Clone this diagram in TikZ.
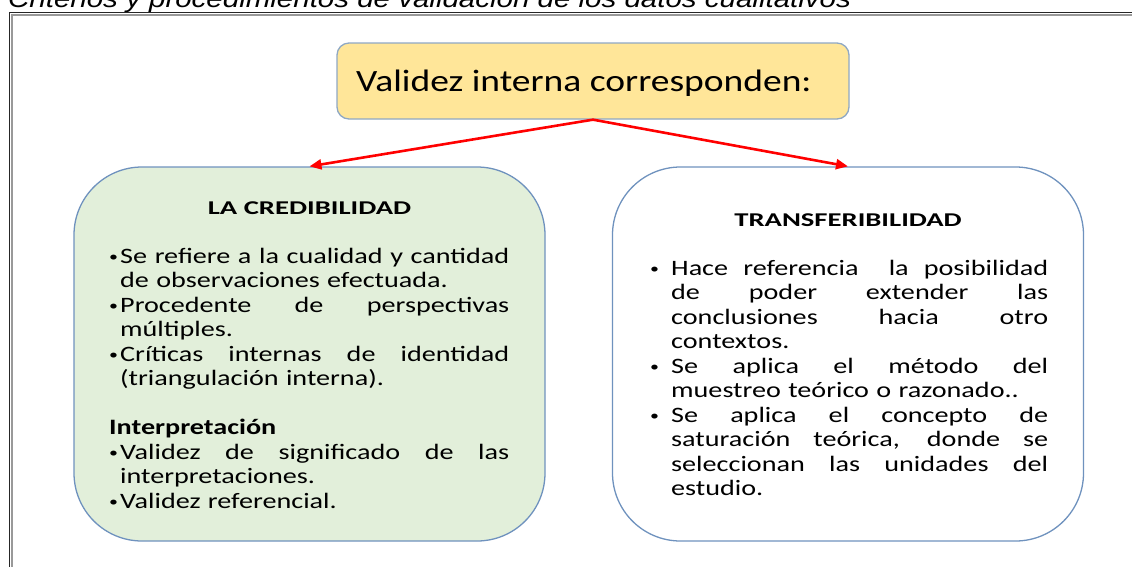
\documentclass[tikz,border=0pt]{standalone}
\usepackage{fontspec}
\setmainfont{Carlito}
\newfontfamily\titlefont[FakeStretch=1.18]{Liberation Sans}
\newfontfamily\bodyfont[FakeStretch=1.28]{Carlito}
\newfontfamily\headfont[FakeStretch=1.47]{Carlito}
\newfontfamily\topfont[FakeStretch=1.21]{Carlito}
\usetikzlibrary{arrows.meta}
\definecolor{boxblue}{HTML}{6F92BE}
\definecolor{topborder}{HTML}{8FA8C4}
\definecolor{topfill}{HTML}{FFE699}
\definecolor{greenfill}{HTML}{E2EFDA}
\definecolor{arrowred}{HTML}{FF0000}
\newcommand\jl[2]{\hbox to #1{\spaceskip=0.3em plus 1fil\relax #2}}
\newcommand\smallbul{\raisebox{2pt}{\fontsize{14}{14}\selectfont •}}
\newcommand\lbul{\makebox[11pt][l]{\smallbul}}
\newcommand\lind{\hspace*{11pt}}
\newcommand\rbul{\makebox[21pt][l]{\smallbul}}
\newcommand\rind{\hspace*{21pt}}
\tikzset{
  bigbox/.style={draw=boxblue, line width=1.3pt, rounded corners=68pt, minimum width=471pt, minimum height=374pt, inner sep=0pt},
  body/.style={anchor=base west, inner sep=0pt, align=left, text width=440pt, font=\bodyfont\fontsize{22}{24.5}\selectfont},
  head/.style={anchor=base, inner sep=0pt, font=\headfont\bfseries\fontsize{19.5}{19.5}\selectfont},
  link/.style={draw=arrowred, line width=2.6pt, -{Triangle[length=12pt,width=10pt]}, shorten >=0pt}
}
\begin{document}
\begin{tikzpicture}[x=1pt,y=-1pt]
\useasboundingbox (0,0) rectangle (1132,566);
\clip (0,0) rectangle (1132,566);
% title
\node[anchor=base west, inner sep=0pt, font=\titlefont\itshape\fontsize{25}{25}\selectfont] (title) at (8,7) {Criterios y procedimientos de validación de los datos cualitativos};
% frame
\draw[black!85, line width=1.5pt] (9.5,600) -- (9.5,12.5) -- (1140,12.5);
\draw[black!40, line width=2pt] (11.5,600) -- (11.5,14.5) -- (1140,14.5);
% top box
\node[draw=topborder, fill=topfill, line width=1.3pt, rounded corners=12pt, minimum width=512pt, minimum height=76pt, inner sep=0pt] (top) at (593,81) {};
\node[anchor=base west, inner sep=0pt, font=\topfont\fontsize{31}{31}\selectfont] (toptext) at (356,91) {Validez interna corresponden:};
% boxes
\node[bigbox, fill=greenfill] (left) at (309.5,354) {};
\node[bigbox, fill=white] (right) at (848,354) {};
% arrows
\draw[link] (top.south) -- (left.north);
\draw[link] (top.south) -- (right.north);
% left content
\node[head] (lhead) at (309.5,214) {LA CREDIBILIDAD};
\node[body] (ltext) at (109,263) {%
\lbul\jl{389pt}{Se refiere a la cualidad y cantidad}\\
\lind de observaciones efectuada.\\
\lbul\jl{389pt}{Procedente de perspectivas}\\
\lind múltiples.\\
\lbul\jl{389pt}{Críticas internas de identidad}\\
\lind (triangulación interna).\\[24.5pt]
{\bfseries Interpretación}\\
\lbul\jl{389pt}{Validez de significado de las}\\
\lind interpretaciones.\\
\lbul Validez referencial.};
% right content
\node[head] (rhead) at (848,226) {TRANSFERIBILIDAD};
\node[body] (rtext) at (650,275) {%
\rbul\jl{377pt}{Hace referencia \ la posibilidad}\\
\rind\jl{377pt}{de poder extender las}\\
\rind\jl{377pt}{conclusiones hacia otro}\\
\rind contextos.\\
\rbul\jl{377pt}{Se aplica el método del}\\
\rind muestreo teórico o razonado..\\
\rbul\jl{377pt}{Se aplica el concepto de}\\
\rind\jl{377pt}{saturación teórica, donde se}\\
\rind\jl{377pt}{seleccionan las unidades del}\\
\rind estudio.};
\end{tikzpicture}
\end{document}
